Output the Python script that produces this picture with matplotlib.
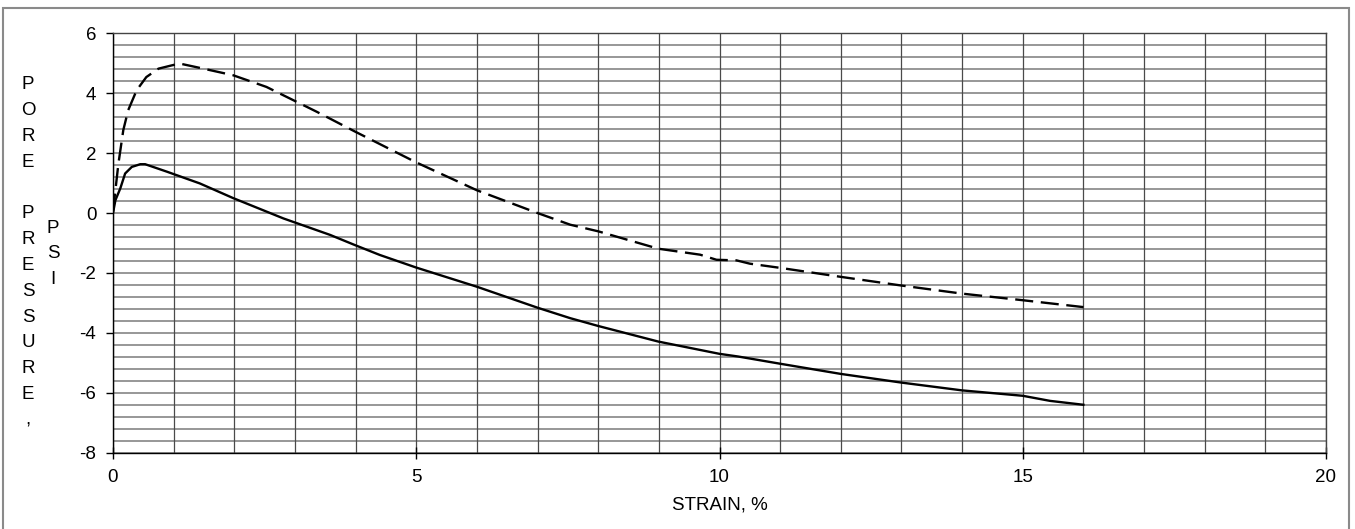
import matplotlib
matplotlib.use('Agg')
import matplotlib.pyplot as plt
from matplotlib.patches import Rectangle
import numpy as np

plt.rcParams['font.family'] = ['Liberation Sans', 'DejaVu Sans']
plt.rcParams['lines.scale_dashes'] = False
plt.rcParams['axes.unicode_minus'] = False

# solid curve
strain_solid = [0, 0.04, 0.12, 0.2, 0.31, 0.45, 0.53, 0.89, 1.0, 1.43, 1.98, 2.81,
                3.58, 3.99, 4.4, 5.0, 6.0, 7.0, 7.54, 8.0, 8.99, 10.0, 10.31, 11.0,
                12.0, 13.0, 14.0, 15.0, 15.45, 16.0]
pore_solid = [0, 0.43, 0.82, 1.32, 1.54, 1.63, 1.63, 1.38, 1.3, 0.99, 0.5, -0.18,
              -0.73, -1.07, -1.4, -1.82, -2.46, -3.16, -3.51, -3.77, -4.29, -4.7, -4.79, -5.03,
              -5.37, -5.66, -5.92, -6.1, -6.27, -6.4]

# dashed curve
strain_dash = [0, 0.04, 0.09, 0.17, 0.25, 0.39, 0.55, 0.75, 0.97, 1.1, 1.49, 1.98,
               2.53, 2.92, 3.36, 3.99, 5.0, 6.0, 7.0, 7.54, 8.0, 8.99, 9.68, 9.95,
               10.28, 10.5, 11.0, 12.0, 13.0, 14.0, 15.0, 16.0]
pore_dash = [0.05, 0.77, 1.66, 2.77, 3.43, 4.1, 4.54, 4.82, 4.93, 4.99, 4.82, 4.6,
             4.21, 3.82, 3.38, 2.72, 1.69, 0.76, 0.0, -0.39, -0.61, -1.19, -1.39, -1.56,
             -1.58, -1.69, -1.83, -2.13, -2.42, -2.69, -2.91, -3.14]

W, H = 1355, 529
fs = 13.5
fig = plt.figure(figsize=(W / 100, H / 100), dpi=100)
ax = fig.add_axes([113 / W, 1 - 452.7 / H, (1326 - 113) / W, (452.7 - 33.3) / H])

# outer frame of the figure
fig.patches.append(Rectangle((3 / W, -0.01), (1349 - 3) / W, 1.01 - 8 / H,
                             transform=fig.transFigure, fill=False,
                             edgecolor='#8a8a8a', linewidth=1.5))

ax.set_xlim(0, 20)
ax.set_ylim(-8, 6)

# grid
for yv in np.arange(-8, 6.01, 0.4):
    ax.axhline(yv, color='#7a7a7a', linewidth=1.1, zorder=1)
for xv in range(0, 21):
    ax.axvline(xv, color='#4a4a4a', linewidth=0.9, zorder=1)

ax.plot(strain_solid, pore_solid, color='black', linewidth=1.7, zorder=3)
ax.plot(strain_dash, pore_dash, color='black', linewidth=1.7, dashes=(13, 5.5), zorder=3)

ax.set_xticks([0, 5, 10, 15, 20])
ax.set_yticks(range(-8, 7, 2))
ax.tick_params(axis='x', direction='inout', length=8, width=1, labelsize=fs, pad=8)
ax.tick_params(axis='y', direction='out', length=5, width=1, labelsize=fs, pad=7)

for s in ax.spines.values():
    s.set_color('#444444')
    s.set_linewidth(1)
ax.spines['bottom'].set_color('black')
ax.spines['left'].set_color('black')

ax.set_xlabel('STRAIN, %', fontsize=fs, labelpad=7)

# stacked vertical y label
fig.text(28 / W, 1 - 76 / H, '\n'.join('PORE PRESSURE,'),
         ha='center', va='top', fontsize=fs, linespacing=1.68)
fig.text(53 / W, 1 - 220 / H, 'P\nS\nI', ha='center', va='top',
         fontsize=fs, linespacing=1.65)

fig.savefig('out.png', dpi=100)
